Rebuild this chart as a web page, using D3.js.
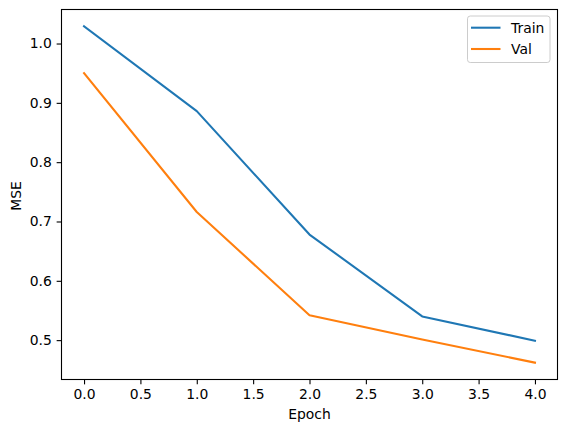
<!DOCTYPE html>
<html>
<head>
<meta charset="utf-8">
<script src="https://cdn.jsdelivr.net/npm/d3@7"></script>
<style>
  body { margin: 0; background: #fff; }
  svg text { font-family: "DejaVu Sans", sans-serif; font-size: 13.9px; fill: #000; }
</style>
</head>
<body>
<svg width="567" height="432"></svg>
<script>
var epochs = [0, 1, 2, 3, 4];
var trainMse = [1.029, 0.886, 0.678, 0.540, 0.499];
var valMse = [0.950, 0.716, 0.542, 0.501, 0.462];
var xTicks = [0, 0.5, 1, 1.5, 2, 2.5, 3, 3.5, 4];
var yTicks = [0.5, 0.6, 0.7, 0.8, 0.9, 1.0];
var seriesNames = ["Train", "Val"];
var seriesColors = ["#1f77b4", "#ff7f0e"];

var svg = d3.select("svg");
var plotLeft = 61.5, plotRight = 557.5, plotTop = 9.5, plotBottom = 379.5;

// matplotlib style 5% margins
var xMin = d3.min(epochs), xMax = d3.max(epochs);
var xPad = (xMax - xMin) * 0.05;
var allY = trainMse.concat(valMse);
var yMin = d3.min(allY), yMax = d3.max(allY);
var yPad = (yMax - yMin) * 0.05;

var x = d3.scaleLinear().domain([xMin - xPad, xMax + xPad]).range([plotLeft, plotRight]);
var y = d3.scaleLinear().domain([yMin - yPad, yMax + yPad]).range([plotBottom, plotTop]);

var tickLen = 4.86, tickPad = 4.86;

var xAxis = d3.axisBottom(x).tickValues(xTicks).tickFormat(d3.format(".1f"))
    .tickSizeInner(tickLen).tickSizeOuter(0).tickPadding(tickPad);
var yAxis = d3.axisLeft(y).tickValues(yTicks).tickFormat(d3.format(".1f"))
    .tickSizeInner(tickLen).tickSizeOuter(0).tickPadding(tickPad);

var gx = svg.append("g").attr("transform", "translate(0," + plotBottom + ")").call(xAxis);
var gy = svg.append("g").attr("transform", "translate(" + plotLeft + ",0)").call(yAxis);
[gx, gy].forEach(function (g) {
    g.attr("font-size", null).attr("font-family", null);
    g.select(".domain").remove();
    g.selectAll("line").attr("stroke", "#000").attr("stroke-width", 1.1);
});

var lines = [trainMse, valMse];
var line = d3.line().x(function (d, i) { return x(epochs[i]); }).y(function (d) { return y(d); });

svg.append("g").selectAll("path")
    .data(lines)
    .enter().append("path")
    .attr("d", line)
    .attr("fill", "none")
    .attr("stroke", function (d, i) { return seriesColors[i]; })
    .attr("stroke-width", 2.08)
    .attr("stroke-linecap", "square")
    .attr("stroke-linejoin", "round");

// frame
svg.append("rect")
    .attr("x", plotLeft).attr("y", plotTop)
    .attr("width", plotRight - plotLeft).attr("height", plotBottom - plotTop)
    .attr("fill", "none").attr("stroke", "#000").attr("stroke-width", 1.1);

svg.append("text")
    .attr("x", (plotLeft + plotRight) / 2).attr("y", 419)
    .attr("text-anchor", "middle")
    .text("Epoch");

svg.append("text")
    .attr("transform", "translate(21,196) rotate(-90)")
    .attr("text-anchor", "middle")
    .text("MSE");

// legend
var legend = svg.append("g");
legend.append("rect")
    .attr("x", 467.5).attr("y", 16).attr("width", 82.5).attr("height", 46.5)
    .attr("rx", 2.8)
    .attr("fill", "#fff").attr("fill-opacity", 0.8)
    .attr("stroke", "#ccc").attr("stroke-width", 1);

var item = legend.selectAll("g.item")
    .data(seriesNames)
    .enter().append("g")
    .attr("class", "item")
    .attr("transform", function (d, i) { return "translate(0," + (27.7 + i * 21.3) + ")"; });

item.append("line")
    .attr("x1", 471).attr("x2", 500.5)
    .attr("stroke", function (d, i) { return seriesColors[i]; })
    .attr("stroke-width", 2.08);

item.append("text")
    .attr("x", 511).attr("y", 5)
    .text(function (d) { return d; });
</script>
</body>
</html>
